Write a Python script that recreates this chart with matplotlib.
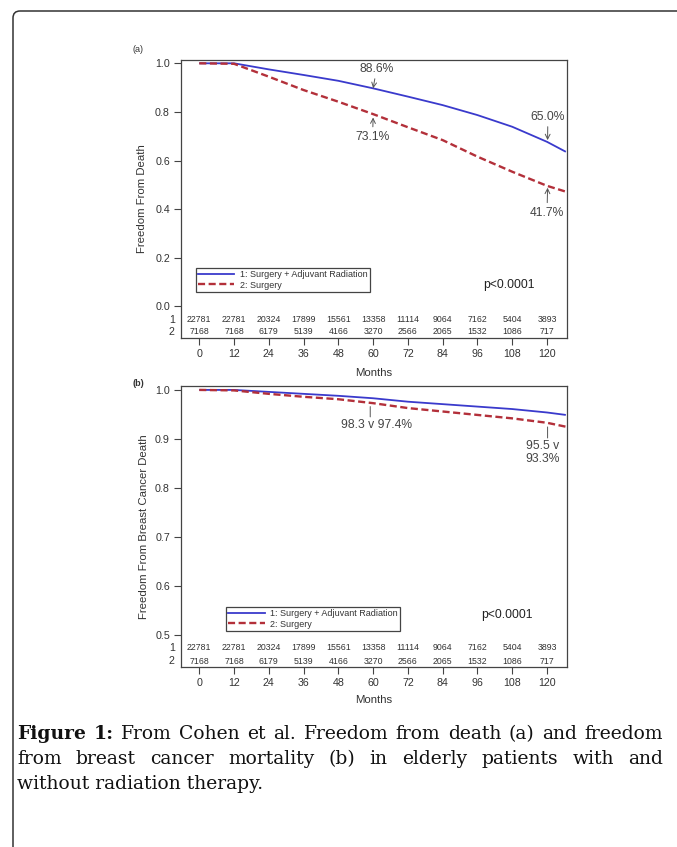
import matplotlib
matplotlib.use("Agg")
import matplotlib.pyplot as plt
from matplotlib.patches import FancyBboxPatch
from matplotlib.lines import Line2D
import matplotlib.transforms as mtransforms

# ── data ────────────────────────────────────────────────────────────────────
months = [0, 12, 24, 36, 48, 60, 72, 84, 96, 108, 120, 126.5]

death_rt = [1.0, 1.0, 0.975, 0.952, 0.928, 0.897, 0.863, 0.828, 0.787, 0.739, 0.677, 0.636]
death_surg = [1.0, 0.998, 0.945, 0.890, 0.842, 0.791, 0.737, 0.684, 0.616, 0.554, 0.496, 0.472]

bc_rt = [1.0, 1.0, 0.996, 0.992, 0.988, 0.983, 0.976, 0.971, 0.966, 0.961, 0.954, 0.949]
bc_surg = [1.0, 0.999, 0.992, 0.986, 0.981, 0.973, 0.963, 0.956, 0.949, 0.942, 0.933, 0.925]

tick_months = [0, 12, 24, 36, 48, 60, 72, 84, 96, 108, 120]
at_risk_rt = [22781, 22781, 20324, 17899, 15561, 13358, 11114, 9064, 7162, 5404, 3893]
at_risk_surg = [7168, 7168, 6179, 5139, 4166, 3270, 2566, 2065, 1532, 1086, 717]

series_labels = ["1: Surgery + Adjuvant Radiation", "2: Surgery"]

caption_lines = [
    "Figure 1: From Cohen et al. Freedom from death (a) and freedom",
    "from breast cancer mortality (b) in elderly patients with and",
    "without radiation therapy.",
]

W, H = 677, 847
BLUE = "#3a3acc"
RED = "#b3303a"
INK = "#333333"

plt.rcParams["font.family"] = ["Liberation Sans", "DejaVu Sans"]
fig = plt.figure(figsize=(W / 100, H / 100), dpi=100)


def px_axes(x0, y0, x1, y1):
    return fig.add_axes([x0 / W, 1 - y1 / H, (x1 - x0) / W, (y1 - y0) / H])


def style_axes(ax, yticks, fmt):
    for s in ax.spines.values():
        s.set_color("#444444")
        s.set_linewidth(0.9)
    ax.set_xticks(tick_months)
    ax.set_yticks(yticks)
    ax.set_yticklabels([fmt.format(v) for v in yticks])
    ax.tick_params(direction="out", length=5, width=0.8, color="#444444",
                   labelsize=7.7, labelcolor=INK, pad=3)
    ax.set_xlim(-6.3, 126.9)


def draw_curves(ax, rt, surg):
    ax.plot(months, rt, color=BLUE, lw=1.3, solid_capstyle="butt")
    ax.plot(months, surg, color=RED, lw=1.7, dashes=(3.0, 1.5))


def at_risk(ax, y1, y2):
    tr = mtransforms.blended_transform_factory(ax.transData, ax.transAxes)
    for m, a, b in zip(tick_months, at_risk_rt, at_risk_surg):
        ax.text(m, y1, str(a), transform=tr, ha="center", va="center", fontsize=6.3, color=INK)
        ax.text(m, y2, str(b), transform=tr, ha="center", va="center", fontsize=6.3, color=INK)
    ax.text(-0.016, y1, "1", transform=ax.transAxes, ha="right", va="center", fontsize=7.7, color=INK)
    ax.text(-0.016, y2, "2", transform=ax.transAxes, ha="right", va="center", fontsize=7.7, color=INK)


def legend(ax, x0, ytop):
    handles = [Line2D([], [], color=BLUE, lw=1.3),
               Line2D([], [], color=RED, lw=1.7, dashes=(3.0, 1.5))]
    lg = ax.legend(handles, series_labels, loc="upper left", bbox_to_anchor=(x0, ytop),
                   borderaxespad=0, fontsize=6.5, handlelength=4.0, handletextpad=0.6,
                   labelspacing=0.15, borderpad=0.25, fancybox=False, framealpha=1,
                   edgecolor="#444444", labelcolor=INK)
    lg.get_frame().set_linewidth(0.9)


ann = dict(fontsize=8.7, color="#444444", ha="center", va="center")
arrow = dict(arrowstyle="->", color="#555555", lw=0.7, shrinkA=1, shrinkB=0)
tick_line = dict(arrowstyle="-", color="#555555", lw=0.7, shrinkA=0, shrinkB=0)

# ── (a) freedom from death ─────────────────────────────────────────────────
ax1 = px_axes(181, 60, 567, 338)
draw_curves(ax1, death_rt, death_surg)
ax1.set_ylim(-0.130, 1.0136)
style_axes(ax1, [0.0, 0.2, 0.4, 0.6, 0.8, 1.0], "{:.1f}")
at_risk(ax1, 0.065, 0.022)
legend(ax1, 0.039, 0.252)
ax1.text(106.9, 0.088, "p<0.0001", fontsize=8.7, color="#222222", ha="center", va="center")
ax1.annotate("88.6%", xy=(60, 0.897), xytext=(61.2, 0.978), arrowprops=arrow, **ann)
ax1.annotate("73.1%", xy=(60, 0.777), xytext=(59.8, 0.697), arrowprops=arrow, **ann)
ax1.annotate("65.0%", xy=(120.2, 0.684), xytext=(120.3, 0.781), arrowprops=arrow, **ann)
ax1.annotate("41.7%", xy=(120.2, 0.488), xytext=(120.0, 0.385), arrowprops=arrow, **ann)
ax1.set_xlabel("Months", fontsize=8.2, color=INK)
ax1.xaxis.set_label_coords(0.5, -0.108)
ax1.set_ylabel("Freedom From Death", fontsize=8.2, color=INK)
ax1.yaxis.set_label_coords(-0.088, 0.5)
fig.text(138 / W, 1 - 50 / H, "(a)", fontsize=6.5, color=INK, ha="center", va="center")

# ── (b) freedom from breast cancer death ──────────────────────────────────
ax2 = px_axes(181, 386, 567, 667)
draw_curves(ax2, bc_rt, bc_surg)
ax2.set_ylim(0.435, 1.008)
style_axes(ax2, [0.5, 0.6, 0.7, 0.8, 0.9, 1.0], "{:.1f}")
at_risk(ax2, 0.068, 0.021)
legend(ax2, 0.117, 0.2135)
ax2.text(106.2, 0.541, "p<0.0001", fontsize=8.7, color="#222222", ha="center", va="center")
ax2.annotate("", xy=(59, 0.945), xytext=(59, 0.966), arrowprops=tick_line)
ax2.text(61.3, 0.9286, "98.3 v 97.4%", **ann)
ax2.annotate("", xy=(120.2, 0.902), xytext=(120.2, 0.9245), arrowprops=tick_line)
ax2.text(118.6, 0.886, "95.5 v", **ann)
ax2.text(118.6, 0.859, "93.3%", **ann)
ax2.set_xlabel("Months", fontsize=8.2, color=INK)
ax2.xaxis.set_label_coords(0.5, -0.100)
ax2.set_ylabel("Freedom From Breast Cancer Death", fontsize=8.2, color=INK)
ax2.yaxis.set_label_coords(-0.082, 0.5)
fig.text(138 / W, 1 - 384 / H, "(b)", fontsize=6.5, fontweight="bold", color=INK,
         ha="center", va="center")

# ── page frame (open on right / bottom) ────────────────────────────────────
frame = FancyBboxPatch((0.13, -1.0), 8.0, (H - 11) / 100 + 1.0,
                       boxstyle="round,pad=0,rounding_size=0.07",
                       transform=fig.dpi_scale_trans, fill=False,
                       edgecolor="#333333", lw=1.1)
fig.add_artist(frame)

# ── justified caption ──────────────────────────────────────────────────────
fig.canvas.draw()
renderer = fig.canvas.get_renderer()
cap_kw = dict(fontsize=13.5, family=["DejaVu Serif"], color="#111111",
              va="baseline", ha="left")
x_left, x_right = 17, 663
baselines = [739, 764, 789]
for i, (line, yb) in enumerate(zip(caption_lines, baselines)):
    y = 1 - yb / H
    if i == len(caption_lines) - 1:
        fig.text(x_left / W, y, line, **cap_kw)
        continue
    words = line.split(" ")
    texts = []
    for j, w in enumerate(words):
        bold = i == 0 and j < 2
        texts.append(fig.text(0, y, w, fontweight="bold" if bold else "normal", **cap_kw))
    widths = [t.get_window_extent(renderer).width for t in texts]
    gap = (x_right - x_left - sum(widths)) / (len(words) - 1)
    x = x_left
    for t, w in zip(texts, widths):
        t.set_x(x / W)
        x += w + gap

fig.savefig("out.png", dpi=100)
